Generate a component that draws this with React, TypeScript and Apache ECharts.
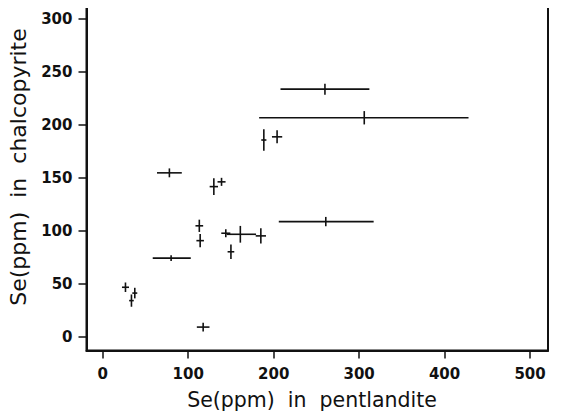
import React, { useEffect, useRef } from "react";
import * as echarts from "echarts";

// Se(ppm) in pentlandite (x) vs Se(ppm) in chalcopyrite (y), with error bars
const xVals = [260, 306, 188.5, 204, 78, 130, 139, 261, 113, 114, 144, 161, 185, 150, 80, 26.6, 33.6, 37.5, 117.5];
const yVals = [234, 207, 186, 189, 155, 142, 146.5, 109, 105, 91, 98, 97, 95.5, 80.5, 74.5, 47, 34.4, 41.5, 9.4];
const xErrMinus = [52, 123, 3, 6, 14.5, 4.9, 4.7, 55, 4.5, 4.4, 5.3, 16, 6, 3.9, 21.5, 4.1, 2.7, 2.9, 7.4];
const xErrPlus = [52, 122, 3, 6, 14.5, 4.9, 4.7, 56, 4.5, 4.4, 5.3, 18.4, 6, 3.9, 23, 4.1, 2.7, 2.9, 7.4];
const yErrMinus = [5.2, 6.3, 10.2, 6.1, 4.2, 7.9, 3.8, 4.4, 5.8, 6.3, 3.8, 7.9, 7.1, 6.9, 2.7, 4.5, 5.8, 5, 4.2];
const yErrPlus = [5.2, 6.3, 10.2, 6.1, 4.2, 7.9, 3.8, 4.4, 5.8, 6.3, 3.8, 7.9, 7.1, 6.9, 2.7, 4.5, 5.8, 5, 4.2];
const xTicks = [0, 100, 200, 300, 400, 500];
const yTicks = [0, 50, 100, 150, 200, 250, 300];
const xTitle = "Se(ppm)  in  pentlandite";
const yTitle = "Se(ppm)  in  chalcopyrite";

export default function App() {
  const ref = useRef<HTMLDivElement>(null);
  useEffect(() => {
    if (!ref.current) return;
    const chart = echarts.init(ref.current, undefined, { renderer: "svg" });
    const data = xVals.map((x, i) => [x, yVals[i], xErrMinus[i], xErrPlus[i], yErrMinus[i], yErrPlus[i]]);
    const ink = "#111";
    const labelStyle = {
      fontFamily: "DejaVu Sans",
      fontWeight: "bold" as const,
      fontSize: 15,
      color: ink,
    };
    chart.setOption({
      animation: false,
      backgroundColor: "#fff",
      grid: {
        left: 86.5,
        right: 13,
        top: 6,
        bottom: 63.5,
        show: true,
        borderColor: ink,
        borderWidth: 2,
      },
      xAxis: {
        type: "value",
        min: -19,
        max: 521,
        splitLine: { show: false },
        axisLine: { show: true, onZero: false, lineStyle: { color: ink, width: 2 } },
        axisTick: { show: true, customValues: xTicks, length: 8, lineStyle: { color: ink, width: 1.5 } },
        axisLabel: { customValues: xTicks, margin: 16, ...labelStyle },
      },
      yAxis: {
        type: "value",
        min: -12.7,
        max: 312.5,
        splitLine: { show: false },
        axisLine: { show: true, onZero: false, lineStyle: { color: ink, width: 2 } },
        axisTick: { show: true, customValues: yTicks, length: 8, lineStyle: { color: ink, width: 1.5 } },
        axisLabel: { customValues: yTicks, margin: 14, ...labelStyle },
      },
      graphic: [
        {
          type: "text",
          x: 312,
          y: 400,
          style: {
            text: xTitle,
            fontFamily: "DejaVu Sans",
            fontSize: 20.5,
            fill: ink,
            align: "center",
            verticalAlign: "middle",
          },
        },
        {
          type: "text",
          x: 18,
          y: 167,
          rotation: Math.PI / 2,
          style: {
            text: yTitle,
            fontFamily: "DejaVu Sans",
            fontSize: 22,
            fill: ink,
            align: "center",
            verticalAlign: "middle",
          },
        },
      ],
      series: [
        {
          type: "custom",
          data,
          encode: { x: 0, y: 1 },
          renderItem: (params: any, api: any) => {
            const x = api.value(0);
            const y = api.value(1);
            const pL = api.coord([x - api.value(2), y]);
            const pR = api.coord([x + api.value(3), y]);
            const pB = api.coord([x, y - api.value(4)]);
            const pT = api.coord([x, y + api.value(5)]);
            const st = { stroke: ink, lineWidth: 1.6 };
            return {
              type: "group",
              children: [
                { type: "line", shape: { x1: pL[0], y1: pL[1], x2: pR[0], y2: pR[1] }, style: st },
                { type: "line", shape: { x1: pB[0], y1: pB[1], x2: pT[0], y2: pT[1] }, style: st },
              ],
            };
          },
        },
      ],
    });
    return () => chart.dispose();
  }, []);
  return <div ref={ref} style={{ width: 561, height: 414, marginTop: -8, marginLeft: -8 }} />;
}
